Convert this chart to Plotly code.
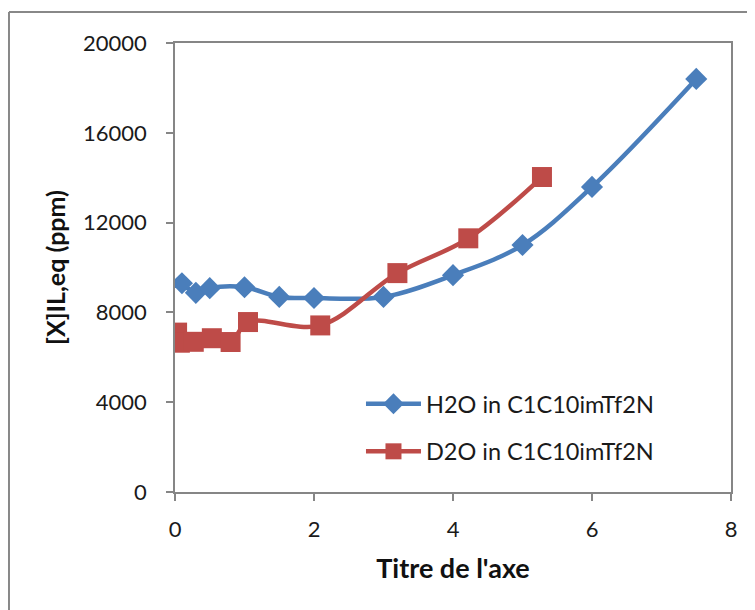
import plotly.graph_objects as go

h2o_x = [0.1, 0.3, 0.5, 1.0, 1.5, 2.0, 3.0, 4.0, 5.0, 6.0, 7.5]
h2o_y = [9300, 8870, 9080, 9120, 8690, 8640, 8690, 9660, 11000, 13590, 18400]

d2o_x = [0.03, 0.07, 0.27, 0.53, 0.8, 1.05, 2.09, 3.2, 4.22, 5.28]
d2o_y = [7100, 6650, 6690, 6850, 6680, 7570, 7420, 9750, 11300, 14030]

names = ["H2O in C1C10imTf2N", "D2O in C1C10imTf2N"]
x_ticks = [0, 2, 4, 6, 8]
y_ticks = [0, 4000, 8000, 12000, 16000, 20000]

blue = "#4A7EBB"
red = "#BE4B48"
grey = "#868686"
font = "Lato, 'Open Sans', sans-serif"
txt = "#1a1a1a"

fig = go.Figure()
fig.add_trace(go.Scatter(
    x=h2o_x, y=h2o_y, name=names[0], mode="lines+markers",
    line=dict(color=blue, width=4.5, shape="spline", smoothing=1.0),
    marker=dict(symbol="diamond", size=17, color=blue),
    legendgroup="a",
))
fig.add_trace(go.Scatter(
    x=d2o_x, y=d2o_y, name=names[1], mode="lines+markers",
    line=dict(color=red, width=4.5, shape="spline", smoothing=1.0),
    marker=dict(symbol="square", size=20, color=red),
    legendgroup="b",
))

fig.update_layout(
    width=747, height=602,
    margin=dict(l=167, r=24, t=35, b=118),
    paper_bgcolor="white", plot_bgcolor="white",
    font=dict(family=font, size=22, color=txt),
    showlegend=True,
    legend=dict(
        x=0.3345, y=0.245, xanchor="left", yanchor="top",
        bgcolor="rgba(0,0,0,0)", font=dict(size=23.5, color=txt),
        tracegroupgap=14, itemwidth=55, traceorder="grouped",
    ),
    xaxis=dict(
        range=[0, 8], tickvals=x_ticks, ticktext=[str(v) for v in x_ticks],
        showgrid=False, zeroline=False, showline=True, linecolor=grey, linewidth=1.5,
        mirror=True, ticks="outside", ticklen=7, tickcolor=grey, tickwidth=1.5,
        tickfont=dict(size=22, color=txt), ticklabelstandoff=10,
        title=dict(text="<b>Titre de l'axe</b>", font=dict(size=27, color="#111111"), standoff=18),
    ),
    yaxis=dict(
        range=[0, 20000], tickvals=y_ticks, ticktext=[str(v) for v in y_ticks],
        showgrid=False, zeroline=False, showline=True, linecolor=grey, linewidth=1.5,
        mirror=True, ticks="outside", ticklen=7, tickcolor=grey, tickwidth=1.5,
        tickfont=dict(size=22, color=txt), ticklabelstandoff=15,
        title=dict(text="<b>[X]IL,eq (ppm)</b>", font=dict(size=25, color="#111111"), standoff=10),
    ),
    shapes=[
        dict(type="line", xref="paper", yref="paper", x0=-0.2986, x1=1.1, y0=1.069, y1=1.069,
             line=dict(color="#888888", width=2)),
        dict(type="line", xref="paper", yref="paper", x0=-0.2986, x1=-0.2986, y0=1.069, y1=-0.3,
             line=dict(color="#888888", width=2)),
    ],
)

fig.write_html("out.html")
